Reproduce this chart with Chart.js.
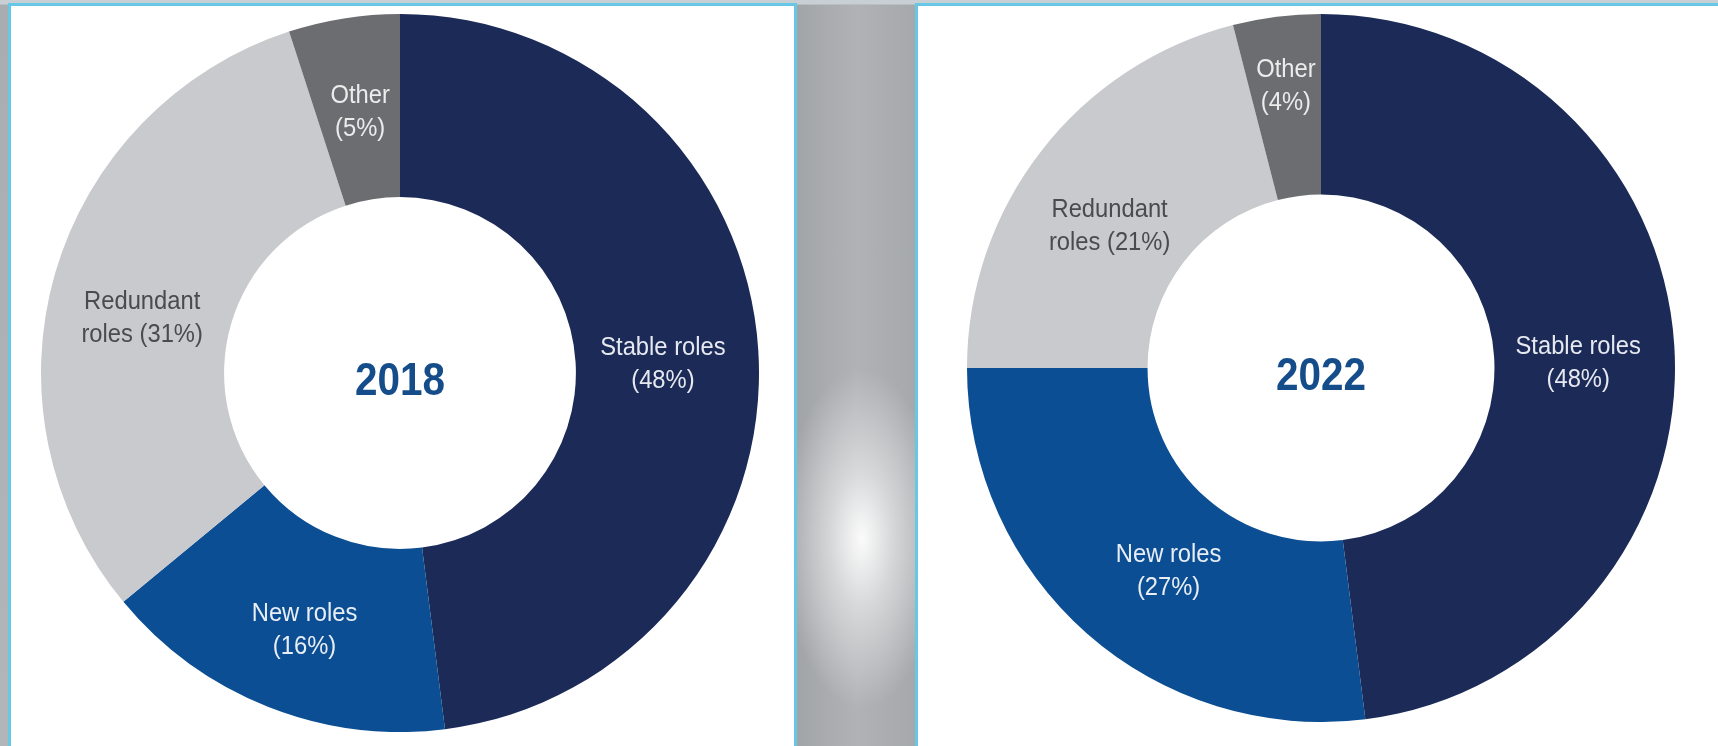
<!DOCTYPE html>
<html>
<head>
<meta charset="utf-8">
<script src="https://cdn.jsdelivr.net/npm/chart.js@4.4.1/dist/chart.umd.min.js"></script>
<style>
  html, body { margin: 0; padding: 0; }
  body {
    width: 1718px; height: 746px; position: relative; overflow: hidden;
    background: linear-gradient(180deg, #c9d0d5 0px, #c9d0d5 4px, #a9adb1 5px, #b3b6b9 100%);
    font-family: "Liberation Sans", Arial, sans-serif;
  }
  .panel {
    position: absolute; background: #fff; border: 3px solid #66c8e6; box-sizing: border-box;
  }
  #p1 { left: 8px; top: 3px; width: 789px; height: 760px; }
  #p2 { left: 915px; top: 3px; width: 820px; height: 760px; }
  #mid {
    position: absolute; left: 797px; top: 5px; width: 118px; height: 741px;
    background:
      radial-gradient(ellipse 80px 170px at 55% 72%, rgba(255,255,255,0.95) 0%, rgba(255,255,255,0.5) 40%, rgba(255,255,255,0) 100%),
      linear-gradient(90deg, #a2a5a8 0%, #b0b2b5 50%, #a6a9ac 100%);
  }
  .wrap { position: absolute; }
  #w1 { left: 41px; top: 14px; width: 718px; height: 718px; }
  #w2 { left: 967px; top: 14px; width: 708px; height: 708px; }
</style>
</head>
<body>
<div id="mid"></div>
<div class="panel" id="p1"></div>
<div class="panel" id="p2"></div>
<div class="wrap" id="w1"><canvas id="c1" width="718" height="718"></canvas></div>
<div class="wrap" id="w2"><canvas id="c2" width="708" height="708"></canvas></div>
<script>
// ---- data ----
const categories = ['Stable roles', 'New roles', 'Redundant roles', 'Other'];
const firstLineWords = [2, 2, 1, 1];           // how many words on the first label line
const values2018 = [48, 16, 31, 5];
const values2022 = [48, 27, 21, 4];
const years = ['2018', '2022'];
const segmentColors = ['#1b2a57', '#0b4e93', '#c9cacd', '#6c6d70'];
const labelColors = ['#e6e9f0', '#e9eef5', '#4a4b4d', '#ececec'];

function labelLines(i, v) {
  const words = (categories[i] + ' (' + v + '%)').split(' ');
  const n = firstLineWords[i];
  return [words.slice(0, n).join(' '), words.slice(n).join(' ')];
}

const labelPlugin = {
  id: 'segLabels',
  afterDatasetsDraw(chart, args, opts) {
    const ctx = chart.ctx;
    const meta = chart.getDatasetMeta(0);
    const data = chart.data.datasets[0].data;
    ctx.save();
    ctx.textAlign = 'center';
    ctx.textBaseline = 'middle';
    const lh = 33;
    meta.data.forEach((arc, i) => {
      const p = arc.tooltipPosition();
      const off = (opts.offsets && opts.offsets[i]) || [0, 0];
      const lines = labelLines(i, data[i]);
      ctx.fillStyle = labelColors[i];
      lines.forEach((t, k) => {
        ctx.save();
        ctx.translate(p.x + off[0], p.y + off[1] + (k - (lines.length - 1) / 2) * lh);
        ctx.scale(0.95, 1);
        ctx.font = '25px "Liberation Sans", Arial, sans-serif';
        ctx.fillText(t, 0, 0);
        ctx.restore();
      });
    });
    // center year
    const a = meta.data[0];
    ctx.save();
    ctx.translate(a.x, a.y + 9);
    ctx.scale(0.88, 1);
    ctx.font = 'bold 46px "Liberation Sans", Arial, sans-serif';
    ctx.fillStyle = '#154d8b';
    ctx.fillText(opts.year, 0, 0);
    ctx.restore();
    ctx.restore();
  }
};

function makeChart(id, values, year, offsets) {
  return new Chart(document.getElementById(id), {
    type: 'doughnut',
    data: {
      labels: categories,
      datasets: [{ data: values, backgroundColor: segmentColors, borderWidth: 0, hoverOffset: 0 }]
    },
    options: {
      responsive: false,
      animation: false,
      cutout: '49%',
      layout: { padding: 0 },
      plugins: {
        legend: { display: false },
        tooltip: { enabled: false },
        segLabels: { year: year, offsets: offsets }
      }
    },
    plugins: [labelPlugin]
  });
}

makeChart('c1', values2018, years[0], [[-4, 8], [3, 9], [-1, 20], [2, 4]]);
makeChart('c2', values2022, years[1], [[-6, 12], [22, 6], [-3, 20], [-2, -20]]);
</script>
</body>
</html>
